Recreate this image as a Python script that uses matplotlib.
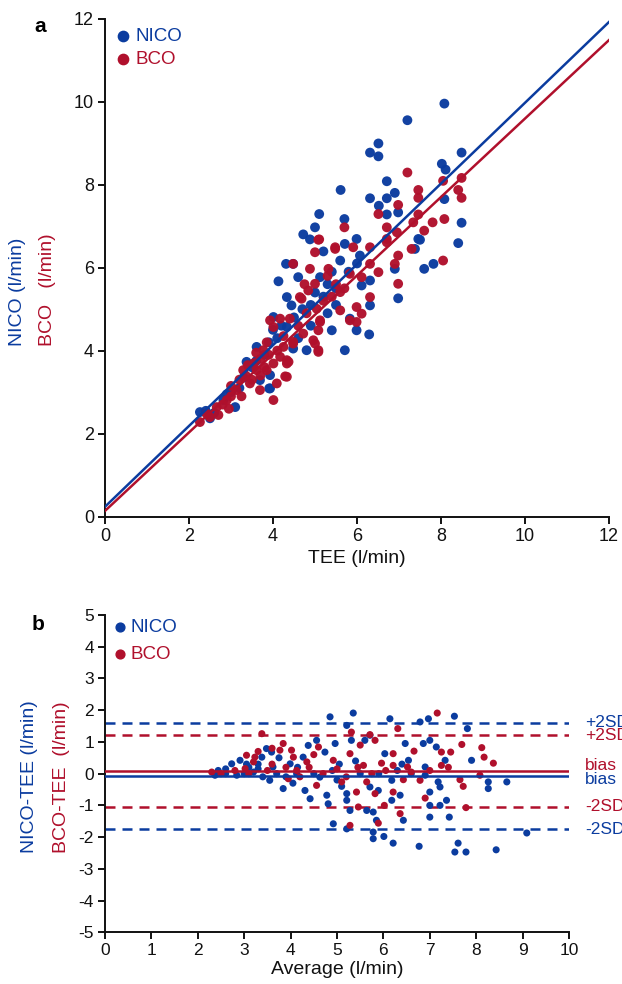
import matplotlib
matplotlib.use("Agg")
import matplotlib.pyplot as plt
import numpy as np

plt.rcParams['font.family'] = ['Liberation Sans', 'DejaVu Sans']
plt.rcParams['axes.unicode_minus'] = False

BLUE = "#0b3c9f"
RED = "#b0102c"

# ---------------- Panel a data ----------------
nico_tee = [8.08, 7.2, 6.51, 6.31, 6.51, 8.49, 8.02, 8.11, 6.71, 5.61, 6.9, 6.31, 6.71, 6.52, 8.08, 5.1, 6.71, 6.98, 8.49, 5.7,
            5.0, 4.72, 4.88, 5.99, 5.71, 7.46, 8.41,
            7.5, 7.38, 5.2, 4.31, 7.82, 7.6, 6.07, 5.6, 6.9, 4.6, 5.12, 6.31, 6.11, 6.98, 4.33, 4.44, 6.31, 5.83, 5.4, 5.99, 6.29,
            5.71, 4.8, 4.48,
            4.01, 4.33, 3.61, 3.37, 3.69, 3.93, 3.1, 2.26, 2.5, 2.82, 3.93,
            2.4, 2.6, 2.9, 3.0, 3.2, 3.3, 3.5, 3.6, 3.8, 3.9, 4.1, 4.2, 4.0, 4.5, 4.7, 4.9, 5.0, 5.2, 5.3, 5.5, 5.8, 6.0, 5.4,
            4.6, 5.3, 5.5, 4.9, 4.13, 4.48, 3.91]
nico_val = [9.95, 9.55, 8.99, 8.77, 8.68, 8.77, 8.5, 8.36, 8.08, 7.87, 7.8, 7.67, 7.67, 7.49, 7.65, 7.29, 7.28, 7.33, 7.08, 7.17,
            6.97, 6.8, 6.68, 6.69, 6.57, 6.69, 6.59,
            6.67, 6.45, 6.39, 6.09, 6.09, 5.97, 6.29, 6.17, 5.97, 5.77, 5.77, 5.69, 5.57, 5.26, 5.29, 5.09, 5.09, 4.77, 4.49, 4.49, 4.39,
            4.01, 4.01, 4.05,
            4.81, 4.57, 4.09, 3.73, 3.29, 3.09, 2.64, 2.52, 2.37, 2.81, 3.41,
            2.55, 2.5, 2.95, 3.0, 3.1, 3.35, 3.6, 3.75, 3.9, 4.2, 4.3, 4.6, 4.5, 4.8, 5.0, 5.1, 5.4, 5.3, 5.6, 5.5, 5.9, 6.1, 5.9,
            4.3, 4.9, 5.1, 4.6, 5.67, 6.09, 3.09]

bco_tee = [7.2, 8.49, 8.05, 7.46, 8.41, 7.46, 8.49, 6.98, 6.51, 7.46, 5.7, 6.71, 7.34, 7.8, 8.08, 7.6, 5.1, 6.95, 6.71, 5.48,
           5.91, 6.31,
           5.08, 5.48, 5.0, 4.48, 4.88, 5.32, 6.31, 6.51, 6.9, 6.98, 7.3, 8.05, 6.71, 6.98, 5.0, 5.6, 4.84, 6.11, 5.83, 6.31,
           4.68, 5.04, 5.6, 5.99, 6.11, 4.4, 5.12, 5.83, 5.99, 5.08, 4.72, 4.96, 4.48, 5.08, 4.25, 4.33, 4.29,
           4.01, 4.33, 4.01, 3.93, 4.01, 4.17, 4.64, 5.0, 5.08, 5.12, 4.48, 4.33, 3.77, 3.29, 3.61, 3.45, 3.13, 2.9, 2.66,
           2.42, 2.26, 3.69, 3.85, 4.17, 4.09,
           2.5, 2.8, 3.0, 3.0, 3.2, 3.35, 3.5, 3.55, 3.7, 3.8, 3.9, 3.4, 3.6, 3.7, 3.25, 2.95, 2.7, 3.85, 4.1, 4.25, 4.6,
           4.8, 5.2, 5.4, 5.5, 5.7, 5.3, 4.75, 4.37]
bco_val = [8.29, 8.16, 8.09, 7.87, 7.87, 7.68, 7.68, 7.51, 7.29, 7.28, 6.97, 6.97, 7.09, 7.09, 7.17, 6.89, 6.68, 6.85, 6.69, 6.49,
           6.49, 6.49,
           6.67, 6.45, 6.37, 6.09, 5.97, 5.97, 6.09, 5.89, 6.09, 6.29, 6.45, 6.17, 6.61, 5.61, 5.61, 5.41, 5.45, 5.77, 5.85, 5.29,
           5.25, 5.01, 4.97, 5.05, 4.89, 4.77, 4.73, 4.73, 4.69, 4.49, 4.41, 4.25, 4.17, 4.01, 4.09, 3.69, 3.38,
           2.81, 3.37, 3.69, 4.73, 4.57, 4.77, 5.29, 4.17, 3.97, 4.69, 4.21, 3.77, 4.01, 3.53, 3.53, 3.21, 3.05, 2.81, 2.64,
           2.48, 2.28, 3.05, 3.53, 3.85, 3.21,
           2.4, 2.7, 2.9, 3.15, 3.3, 3.4, 3.3, 3.7, 3.8, 3.6, 3.9, 3.65, 3.95, 3.4, 2.9, 2.6, 2.45, 4.2, 4.0, 4.35, 4.6,
           4.9, 5.2, 5.3, 5.6, 5.5, 5.8, 5.6, 3.73]

# regression lines (intercept, slope)
nico_fit = (0.24, 0.973)
bco_fit = (0.14, 0.945)

# ---------------- Panel b data ----------------
nico_avg = [2.37, 2.44, 2.73, 2.91, 2.84, 3.2, 3.38, 3.48, 3.59, 3.62, 3.55, 3.84, 3.99, 4.27, 4.38, 4.56, 4.74, 4.63, 4.31,
            4.42, 4.78, 4.81, 4.96, 4.85, 5.35, 5.21, 5.31, 5.6, 5.21, 5.21, 5.21, 4.92, 5.28, 5.64, 4.13,
            6.14, 6.79, 6.97, 7.53, 7.81, 5.71, 6.47, 6.86, 7.0, 7.14, 7.33, 7.9, 6.03, 6.54, 6.9, 6.18, 7.18, 7.22, 8.26,
            8.26, 8.66, 5.71, 5.89, 6.36, 6.18, 7.0, 7.0, 7.22, 7.36, 6.43, 7.0, 7.42, 5.78, 5.85, 5.78, 5.78, 6.01, 6.21,
            6.77, 7.61, 7.54, 7.78, 8.43, 9.09,
            2.6, 3.0, 3.1, 3.3, 3.7, 3.9, 4.5, 4.9, 5.0, 5.5, 5.9, 6.3, 6.6, 3.4, 3.75, 4.05, 5.4, 5.1, 6.9, 6.4, 5.05, 4.15,
            2.6, 3.05, 3.3]
nico_diff = [-0.05, 0.1, 0.31, 0.42, -0.05, 0.05, 0.52, 0.79, 0.68, 0.21, -0.21, -0.47, 0.31, 0.52, 0.89, 1.05, 0.68, -0.11,
             -0.53, -0.79, -0.68, -0.95, 0.95, 1.79, 1.91, 1.52, 1.05, 1.05, -0.63, -0.84, -1.74, -1.58, -1.16, -1.16, 0.0,
             1.73, 1.63, 1.73, 1.81, 1.42, 1.21, 0.95, 0.95, 1.05, 0.84, 0.42, 0.42, 0.63, 0.42, 0.21, -0.21, -0.26, -0.42,
             -0.26, -0.47, -0.26, -0.42, -0.53, -0.68, -0.84, -0.58, -1.0, -1.0, -0.84, -1.47, -1.37, -1.37, -1.21, -1.47,
             -1.84, -2.05, -1.98, -2.19, -2.29, -2.19, -2.47, -2.47, -2.4, -1.87,
             0.0, 0.0, 0.2, 0.15, 0.0, -0.1, 0.0, 0.1, -0.2, 0.0, 0.0, 0.1, 0.0, -0.1, 0.5, -0.3, 0.4, -0.4, -0.05, 0.3, 0.3,
             0.2, 0.15, 0.3, 0.3]

bco_avg = [3.38, 3.05, 3.23, 3.2, 3.02, 3.84, 3.77, 4.02, 4.06, 4.35, 4.6, 4.92, 4.13, 3.95, 4.56, 5.1, 5.28, 5.31, 5.42,
           5.46, 5.28, 5.57,
           7.16, 6.31, 5.71, 5.82, 7.69, 8.12, 8.17, 8.37, 6.21, 5.96, 6.66, 6.52, 7.25, 7.45, 7.25, 7.65, 7.72, 6.43, 6.79,
           5.64, 6.21, 5.82, 6.9, 6.36, 6.02, 7.78, 5.89, 6.21, 8.08,
           2.3, 2.5, 2.8, 3.1, 3.5, 3.6, 3.9, 4.2, 4.4, 4.7, 5.0, 5.2, 5.45, 5.75, 6.05, 6.6, 7.0, 7.4, 3.3, 4.5, 5.5, 3.6]
bco_diff = [1.26, 0.58, 0.52, 0.37, 0.16, 0.95, 0.74, 0.74, 0.52, 0.37, 0.84, 0.42, 0.1, -0.16, -0.37, -0.26, 0.63, 1.31,
            -0.58, -1.05, -1.63, 0.26,
            1.91, 1.42, 1.23, 1.05, 0.92, 0.82, 0.52, 0.33, 0.63, 0.33, 0.71, 0.21, 0.68, 0.68, 0.26, -0.19, -0.4, -0.19,
            -0.21, -0.26, -0.58, -0.63, -0.77, -1.26, -1.0, -1.07, -1.56, 0.26, -0.05,
            0.05, 0.0, 0.1, 0.0, 0.1, 0.3, 0.2, -0.1, 0.2, 0.0, 0.15, -0.1, 0.2, 0.0, 0.1, 0.05, 0.1, 0.2, 0.7, 0.6, 0.9, 0.8]

# bias and limits of agreement
nico_bias, nico_lo, nico_hi = -0.06, -1.76, 1.61
bco_bias, bco_lo, bco_hi = 0.08, -1.05, 1.21

fig = plt.figure(figsize=(6.22, 9.84), dpi=100)
W, H = 622, 984

def axrect(l, r, t, b):
    return [l / W, 1 - b / H, (r - l) / W, (b - t) / H]

def style(ax, fs):
    for s in ['top', 'right']:
        ax.spines[s].set_visible(False)
    for s in ['left', 'bottom']:
        ax.spines[s].set_linewidth(1.4)
        ax.spines[s].set_color('#111111')
    ax.tick_params(direction='out', length=5, width=1.4, labelsize=fs, colors='#111111', pad=3)

# ---------- Panel a ----------
ax1 = fig.add_axes(axrect(105, 609, 18.5, 516.7))
ax1.scatter(nico_tee, nico_val, s=50, color=BLUE, edgecolors='none', zorder=3, alpha=0.97)
ax1.scatter(bco_tee, bco_val, s=50, color=RED, edgecolors='none', zorder=3, alpha=0.97)
xl = np.array([0, 12])
ax1.plot(xl, nico_fit[0] + nico_fit[1] * xl, color=BLUE, lw=1.8, zorder=4)
ax1.plot(xl, bco_fit[0] + bco_fit[1] * xl, color=RED, lw=1.8, zorder=4)
ax1.set_xlim(0, 12)
ax1.set_ylim(0, 12)
ax1.set_xticks(range(0, 13, 2))
ax1.set_yticks(range(0, 13, 2))
style(ax1, 13)
ax1.set_xlabel("TEE (l/min)", fontsize=14, color='#111111', labelpad=4)
ax1.scatter([0.0357], [0.964], s=55, color=BLUE, transform=ax1.transAxes, clip_on=False)
ax1.scatter([0.0357], [0.918], s=55, color=RED, transform=ax1.transAxes, clip_on=False)
ax1.text(0.061, 0.964, "NICO", color=BLUE, fontsize=13.5, va='center', transform=ax1.transAxes)
ax1.text(0.061, 0.918, "BCO", color=RED, fontsize=13.5, va='center', transform=ax1.transAxes)
fig.text(18 / W, 1 - 346 / H, "NICO (l/min)", color=BLUE, rotation=90, fontsize=14, ha='center', va='bottom')
fig.text(47 / W, 1 - 346 / H, "BCO   (l/min)", color=RED, rotation=90, fontsize=14, ha='center', va='bottom')
fig.text(40 / W, 1 - 27 / H, "a", fontsize=15, fontweight='bold', ha='center', va='center')

# ---------- Panel b ----------
ax2 = fig.add_axes(axrect(105, 569, 615, 932.3))
ax2.scatter(nico_avg, nico_diff, s=26, color=BLUE, edgecolors='none', zorder=3)
ax2.scatter(bco_avg, bco_diff, s=26, color=RED, edgecolors='none', zorder=3)
ax2.axhline(nico_hi, color=BLUE, lw=1.8, dashes=(4, 2.8), zorder=2)
ax2.axhline(bco_hi, color=RED, lw=1.8, dashes=(4, 2.8), zorder=2)
ax2.axhline(bco_lo, color=RED, lw=1.8, dashes=(4, 2.8), zorder=2)
ax2.axhline(nico_lo, color=BLUE, lw=1.8, dashes=(4, 2.8), zorder=2)
ax2.axhline(bco_bias, color=RED, lw=1.8, zorder=4)
ax2.axhline(nico_bias, color=BLUE, lw=1.8, zorder=4)
ax2.set_xlim(0, 10)
ax2.set_ylim(-5, 5)
ax2.set_xticks(range(0, 11))
ax2.set_yticks(range(-5, 6))
style(ax2, 12.5)
ax2.set_xlabel("Average (l/min)", fontsize=14, color='#111111', labelpad=2)
tx = 10.34
ax2.text(tx, nico_hi, "+2SD", color=BLUE, fontsize=12.5, va='center', clip_on=False)
ax2.text(tx, bco_hi - 0.02, "+2SD", color=RED, fontsize=12.5, va='center', clip_on=False)
ax2.text(tx, 0.27, "bias", color=RED, fontsize=12.5, va='center', clip_on=False)
ax2.text(tx, -0.2, "bias", color=BLUE, fontsize=12.5, va='center', clip_on=False)
ax2.text(tx, bco_lo, "-2SD", color=RED, fontsize=12.5, va='center', clip_on=False)
ax2.text(tx, nico_lo, "-2SD", color=BLUE, fontsize=12.5, va='center', clip_on=False)
ax2.scatter([0.032], [0.962], s=40, color=BLUE, transform=ax2.transAxes, clip_on=False)
ax2.scatter([0.032], [0.877], s=40, color=RED, transform=ax2.transAxes, clip_on=False)
ax2.text(0.054, 0.962, "NICO", color=BLUE, fontsize=13.5, va='center', transform=ax2.transAxes)
ax2.text(0.054, 0.877, "BCO", color=RED, fontsize=13.5, va='center', transform=ax2.transAxes)
fig.text(30 / W, 1 - 853 / H, "NICO-TEE (l/min)", color=BLUE, rotation=90, fontsize=14, ha='center', va='bottom')
fig.text(62 / W, 1 - 853 / H, "BCO-TEE  (l/min)", color=RED, rotation=90, fontsize=14, ha='center', va='bottom')
fig.text(38 / W, 1 - 625 / H, "b", fontsize=15, fontweight='bold', ha='center', va='center')

fig.savefig("out.png", dpi=100)
